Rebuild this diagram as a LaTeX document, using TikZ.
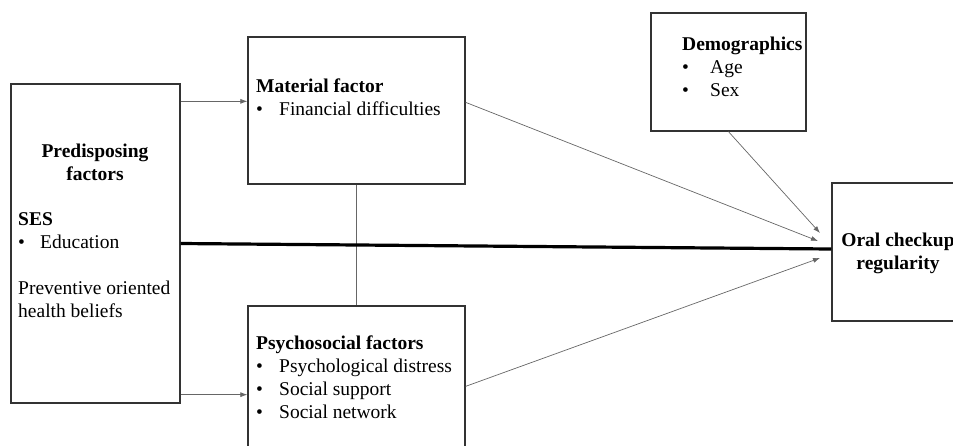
\documentclass[tikz,border=0pt]{standalone}
\usepackage{fontspec}
\setmainfont{Liberation Serif}
\usetikzlibrary{positioning,arrows.meta}
\newcommand{\itm}[2][22pt]{\makebox[#1][l]{\textbullet}#2}
\tikzset{
  >={Latex[length=7pt,width=5pt]},
  box/.style ={draw=black!80, line width=1.3pt, inner sep=0pt},
  txt/.style ={inner sep=0pt, align=left, font=\fontsize{19.5}{23}\selectfont},
  link/.style={->, draw=black!60, line width=0.7pt},
  main/.style={line width=3.2pt},
}

\begin{document}
\begin{tikzpicture}[x=1pt, y=-1pt, line cap=butt]
  \useasboundingbox (0,0) rectangle (953,445);

  %--- boxes ---
  \node[box, minimum width=169pt, minimum height=319pt] (pre)  at (95.5,243.5) {};
  \node[box, minimum width=217pt, minimum height=147pt] (mat)  at (356.5,110.5) {};
  \node[box, minimum width=217pt, minimum height=154pt] (psy)  at (356.5,383) {};
  \node[box, minimum width=155pt, minimum height=118pt] (dem)  at (728.5,72) {};
  \node[box, minimum width=138pt, minimum height=138pt] (oral) at (901,252) {};

  %--- texts (top of first line = baseline - 16) ---
  \node[txt, align=center, anchor=north] (preH) at (95,144)
    {\textbf{Predisposing}\\\textbf{factors}};
  \node[txt, anchor=north west] (preT) at (18,212)
    {\textbf{SES}\\\itm{Education}\\[23pt]Preventive oriented\\health beliefs};
  \node[txt, anchor=north west] (matT) at (256,79)
    {\textbf{Material factor}\\\itm[23pt]{Financial difficulties}};
  \node[txt, anchor=north west] (psyT) at (256,336)
    {\textbf{Psychosocial factors}\\\itm[23pt]{Psychological distress}\\
     \itm[23pt]{Social support}\\\itm[23pt]{Social network}};
  \node[txt, anchor=north west] (demT) at (682,37)
    {\textbf{Demographics}\\\itm[28pt]{Age}\\\itm[28pt]{Sex}};
  \node[txt, align=center, anchor=north] (oralT) at (898,233)
    {\textbf{Oral checkup}\\\textbf{regularity}};

  %--- arrow tips in front of the outcome ---
  \coordinate (tipM) at (818,241);
  \coordinate (tipD) at (820,233);
  \coordinate (tipP) at (820,258);

  %--- connectors ---
  \draw[link] ([yshift=-18pt]pre.north east) -- ([yshift=-18pt]pre.north east -| mat.west);
  \draw[link] ([yshift=9pt]pre.south east) -- ([yshift=9pt]pre.south east -| psy.west);
  \draw[draw=black!60, line width=0.9pt] (mat.south) -- (psy.north);
  \draw[link] ([yshift=-66pt]mat.north east) -- (tipM);
  \draw[link] (dem.south) -- (tipD);
  \draw[link] ([yshift=-81pt]psy.north east) -- (tipP);
  \draw[main] (pre.east) -- ([yshift=3pt]oral.west);
\end{tikzpicture}
\end{document}
